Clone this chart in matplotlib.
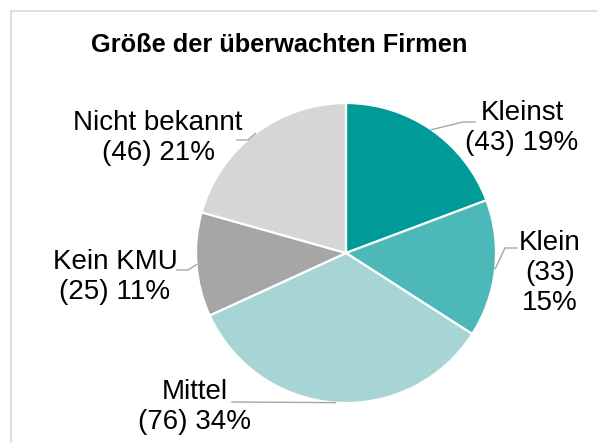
import numpy as np
import matplotlib.pyplot as plt
from matplotlib.patches import Rectangle
from matplotlib.lines import Line2D

categories = ["Kleinst", "Klein", "Mittel", "Kein KMU", "Nicht bekannt"]
counts = [43, 33, 76, 25, 46]
colors = ["#009B98", "#4DB8B8", "#A7D4D4", "#A6A6A6", "#D6D6D6"]
title = "Größe der überwachten Firmen"

W, H = 597, 443
cx, cy, R = 346, 253, 150   # pie centre / radius in pixels


def to_data(px, py):
    return (px - cx) / R, (cy - py) / R


# label centre, elbow points (pixels) and line breaks for each slice
label_layout = {
    "Kleinst": dict(pos=(522, 128), elbow=[(463, 122), (475, 122)], wrap="{n}\n({c}) {p}%"),
    "Klein": dict(pos=(550, 273), elbow=[(505, 248), (517, 248)], wrap="{n}\n({c})\n{p}%"),
    "Mittel": dict(pos=(195, 407), elbow=[(232, 402)], wrap="{n}\n({c}) {p}%"),
    "Kein KMU": dict(pos=(115, 277), elbow=[(188, 270), (177, 270)], wrap="{n}\n({c}) {p}%"),
    "Nicht bekannt": dict(pos=(158, 138), elbow=[(248, 140), (237, 140)], wrap="{n}\n({c}) {p}%"),
}

plt.rcParams['font.family'] = ['Liberation Sans', 'DejaVu Sans']

fig = plt.figure(figsize=(W / 100, H / 100), dpi=100)
fig.patches.append(Rectangle((11 / W, -0.1), 1.2, 1 - 11 / H + 0.1, transform=fig.transFigure,
                             fill=False, edgecolor="#D9D9D9", linewidth=1.2))

ax = fig.add_axes([(cx - R) / W, (H - cy - R) / H, 2 * R / W, 2 * R / H])
wedges, _ = ax.pie(counts, colors=colors, startangle=90, counterclock=False, radius=1,
                   wedgeprops=dict(edgecolor="white", linewidth=1.6))
ax.set_xlim(-1, 1)
ax.set_ylim(-1, 1)
ax.set_aspect('auto')
ax.axis('off')

total = sum(counts)
for w, name, c in zip(wedges, categories, counts):
    lay = label_layout[name]
    ang = np.deg2rad((w.theta1 + w.theta2) / 2)
    pts = [(np.cos(ang), np.sin(ang))] + [to_data(*p) for p in lay["elbow"]]
    xs, ys = zip(*pts)
    ax.add_line(Line2D(xs, ys, color="#A6A6A6", linewidth=1.0, clip_on=False))
    pct = round(c / total * 100)
    tx, ty = to_data(*lay["pos"])
    ax.text(tx, ty, lay["wrap"].format(n=name, c=c, p=pct), ha="center", va="center",
            fontsize=20, linespacing=1.18, color="#000000")

fig.text(279 / W, 1 - 45 / H, title, ha="center", va="center",
         fontsize=18.3, fontweight="bold", color="#000000")

fig.savefig("out.png", dpi=100)
